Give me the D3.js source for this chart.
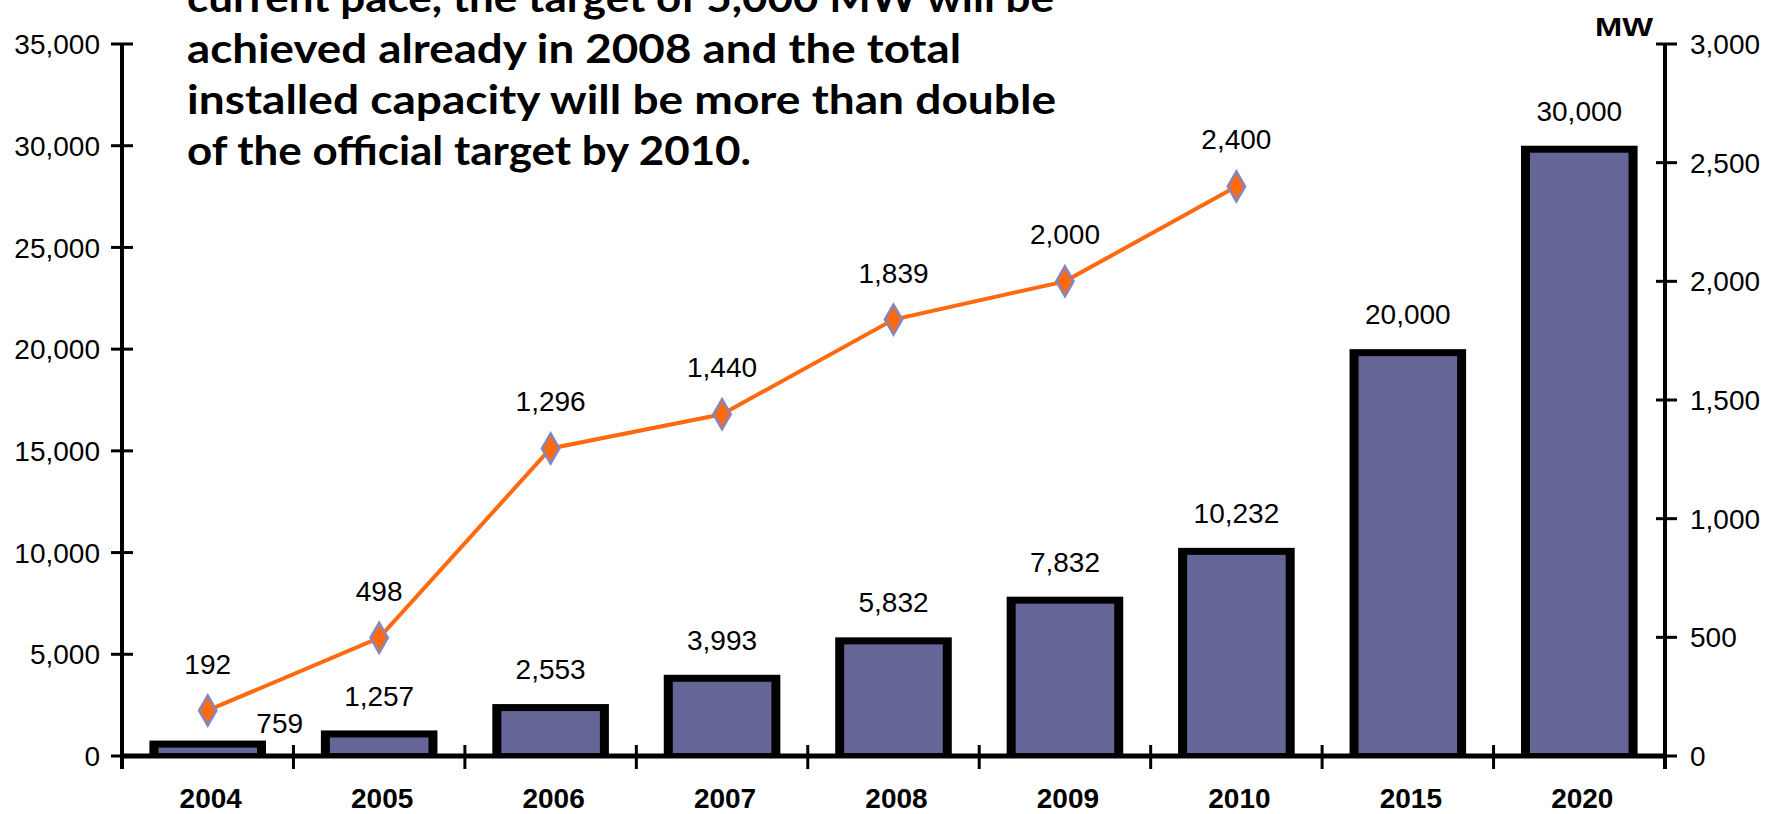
<!DOCTYPE html>
<html>
<head>
<meta charset="utf-8">
<script src="https://cdn.jsdelivr.net/npm/d3@7"></script>
<style>
  body { margin: 0; background: #fff; }
  text { font-family: "Liberation Sans", Arial, sans-serif; fill: #000; }
</style>
</head>
<body>
<div id="chart-area"></div>
<script>
const WIDTH = 1769
const HEIGHT = 814

// data
const years = ["2004", "2005", "2006", "2007", "2008", "2009", "2010", "2015", "2020"]
const cumulative = [759, 1257, 2553, 3993, 5832, 7832, 10232, 20000, 30000]
const lineYears = ["2004", "2005", "2006", "2007", "2008", "2009", "2010"]
const annual = [192, 498, 1296, 1440, 1839, 2000, 2400]
const leftTicks = [0, 5000, 10000, 15000, 20000, 25000, 30000, 35000]
const rightTicks = [0, 500, 1000, 1500, 2000, 2500, 3000]
const noteLines = [
	"current pace, the target of 5,000 MW will be",
	"achieved already in 2008 and the total",
	"installed capacity will be more than double",
	"of the official target by 2010."
]
const noteWidths = [867, 774, 869, 564]

const PLOT = { LEFT: 122, RIGHT: 1665, TOP: 44, BOTTOM: 756 }

const svg = d3.select("#chart-area").append("svg")
	.attr("width", WIDTH)
	.attr("height", HEIGHT)

// scales
const x = d3.scaleBand()
	.domain(years)
	.range([PLOT.LEFT, PLOT.RIGHT])
	.paddingInner(0.32)
	.paddingOuter(0.16)
const y = d3.scaleLinear().domain([0, 35000]).range([PLOT.BOTTOM, PLOT.TOP])
const y2 = d3.scaleLinear().domain([0, 3000]).range([PLOT.BOTTOM, PLOT.TOP])
const fmt = d3.format(",")

// note text at top (first line runs off the top edge, as in the original)
svg.append("g").selectAll("text")
	.data(noteLines)
	.enter().append("text")
	.attr("x", 187)
	.attr("y", (d, i) => 12 + i * 51)
	.attr("textLength", (d, i) => noteWidths[i])
	.attr("lengthAdjust", "spacingAndGlyphs")
	.style("font-family", "Lato, 'DejaVu Sans', sans-serif")
	.style("font-weight", "bold")
	.style("font-size", "40px")
	.text(d => d)

// bars: black frame with purple fill inside
const bars = svg.append("g")
bars.selectAll("rect.frame")
	.data(cumulative)
	.enter().append("rect")
	.attr("class", "frame")
	.attr("x", (d, i) => x(years[i]))
	.attr("y", d => y(d))
	.attr("width", x.bandwidth())
	.attr("height", d => PLOT.BOTTOM - y(d))
	.attr("fill", "#000")
bars.selectAll("rect.fill")
	.data(cumulative)
	.enter().append("rect")
	.attr("class", "fill")
	.attr("x", (d, i) => x(years[i]) + 9)
	.attr("y", d => y(d) + 7)
	.attr("width", x.bandwidth() - 18)
	.attr("height", d => Math.max(0, PLOT.BOTTOM - y(d) - 10))
	.attr("fill", "#656597")

// bar labels
svg.append("g").selectAll("text")
	.data(cumulative)
	.enter().append("text")
	.attr("x", (d, i) => x(years[i]) + x.bandwidth() / 2 + (i === 0 ? 72 : 0))
	.attr("y", (d, i) => y(d) - (i === 0 ? 18 : 35))
	.attr("dy", "0.36em")
	.attr("text-anchor", "middle")
	.style("font-size", "28px")
	.text(d => fmt(d))

// x axis line and ticks at category boundaries
svg.append("line")
	.attr("x1", PLOT.LEFT).attr("x2", PLOT.RIGHT)
	.attr("y1", PLOT.BOTTOM).attr("y2", PLOT.BOTTOM)
	.attr("stroke", "#000").attr("stroke-width", 5)
svg.append("g").selectAll("line")
	.data(years.slice(1))
	.enter().append("line")
	.attr("x1", d => x(d) - x.step() * x.paddingInner() / 2)
	.attr("x2", d => x(d) - x.step() * x.paddingInner() / 2)
	.attr("y1", PLOT.BOTTOM - 11)
	.attr("y2", PLOT.BOTTOM + 13)
	.attr("stroke", "#000").attr("stroke-width", 3)
svg.append("g").selectAll("text")
	.data(years)
	.enter().append("text")
	.attr("x", d => x(d) + x.bandwidth() / 2 + 3)
	.attr("y", 808)
	.attr("text-anchor", "middle")
	.style("font-size", "28px")
	.style("font-weight", "bold")
	.text(d => d)

// left axis
const leftAxis = svg.append("g")
leftAxis.append("line")
	.attr("x1", PLOT.LEFT).attr("x2", PLOT.LEFT)
	.attr("y1", PLOT.TOP).attr("y2", PLOT.BOTTOM + 13)
	.attr("stroke", "#000").attr("stroke-width", 4)
leftAxis.selectAll("line.tick")
	.data(leftTicks)
	.enter().append("line")
	.attr("class", "tick")
	.attr("x1", PLOT.LEFT - 11).attr("x2", PLOT.LEFT + 11)
	.attr("y1", d => y(d)).attr("y2", d => y(d))
	.attr("stroke", "#000").attr("stroke-width", 3)
leftAxis.selectAll("text")
	.data(leftTicks)
	.enter().append("text")
	.attr("x", 100)
	.attr("y", d => y(d))
	.attr("dy", "0.36em")
	.attr("text-anchor", "end")
	.style("font-size", "28px")
	.text(d => fmt(d))

// right axis
const rightAxis = svg.append("g")
rightAxis.append("line")
	.attr("x1", PLOT.RIGHT).attr("x2", PLOT.RIGHT)
	.attr("y1", PLOT.TOP).attr("y2", PLOT.BOTTOM + 13)
	.attr("stroke", "#000").attr("stroke-width", 4)
rightAxis.selectAll("line.tick")
	.data(rightTicks)
	.enter().append("line")
	.attr("class", "tick")
	.attr("x1", PLOT.RIGHT - 9).attr("x2", PLOT.RIGHT + 12)
	.attr("y1", d => y2(d)).attr("y2", d => y2(d))
	.attr("stroke", "#000").attr("stroke-width", 3)
rightAxis.selectAll("text")
	.data(rightTicks)
	.enter().append("text")
	.attr("x", PLOT.RIGHT + 25)
	.attr("y", d => y2(d))
	.attr("dy", "0.36em")
	.style("font-size", "28px")
	.text(d => fmt(d))
rightAxis.append("text")
	.attr("x", 1653)
	.attr("y", 27)
	.attr("dy", "0.36em")
	.attr("text-anchor", "end")
	.attr("textLength", 58)
	.attr("lengthAdjust", "spacingAndGlyphs")
	.style("font-size", "25px")
	.style("font-weight", "bold")
	.text("MW")

// line series on the right axis
const cx = d => x(d) + x.bandwidth() / 2
const line = d3.line()
	.x((d, i) => cx(lineYears[i]))
	.y(d => y2(d))
svg.append("path")
	.attr("d", line(annual))
	.attr("fill", "none")
	.attr("stroke", "#ff6a10")
	.attr("stroke-width", 4)
svg.append("g").selectAll("path")
	.data(annual)
	.enter().append("path")
	.attr("d", d3.symbol().type(d3.symbolDiamond).size(260))
	.attr("transform", (d, i) => `translate(${cx(lineYears[i])}, ${y2(d)})`)
	.attr("fill", "#ff6a10")
	.attr("stroke", "#8585c0")
	.attr("stroke-width", 2.5)
svg.append("g").selectAll("text")
	.data(annual)
	.enter().append("text")
	.attr("x", (d, i) => cx(lineYears[i]))
	.attr("y", d => y2(d) - 47)
	.attr("dy", "0.36em")
	.attr("text-anchor", "middle")
	.style("font-size", "28px")
	.text(d => fmt(d))
</script>
</body>
</html>
